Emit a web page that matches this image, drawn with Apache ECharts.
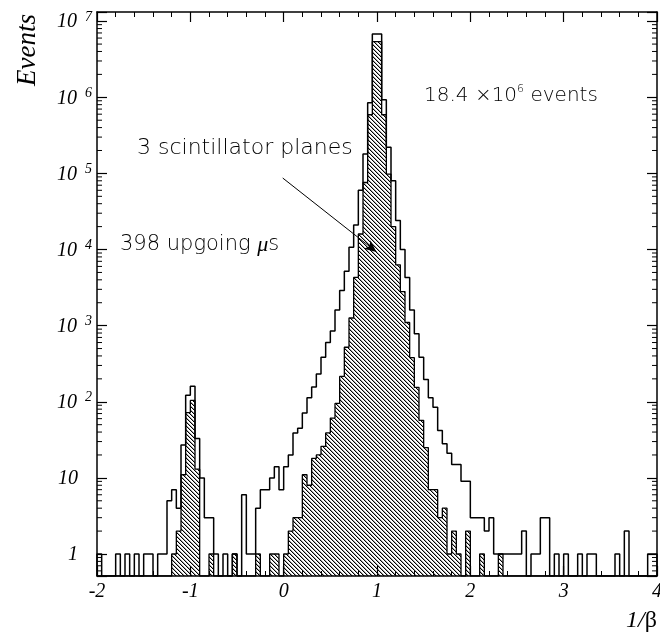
<!DOCTYPE html>
<html>
<head>
<meta charset="utf-8">
<script src="https://cdn.jsdelivr.net/npm/echarts@6/dist/echarts.min.js"></script>
<style>
html, body { margin: 0; padding: 0; background: #fff; }
#main { width: 660px; height: 635px; }
</style>
</head>
<body>
<div id="main"></div>
<script>
// 1/beta binning: 120 bins of 0.05 from -2 to 4
var xMin = -2, xMax = 4, binWidth = 0.05;
var yMin = 0.514, yMax = 1.32e7;

// all events (open histogram)
var allEvents = [
    1, 0, 0, 0, 1, 0, 1, 0, 1, 0,
    1, 1, 0, 1, 1, 5, 7, 4, 27, 122,
    160, 33, 10, 3, 3, 1, 0, 1, 0, 1,
    0, 6, 1, 1, 4, 7, 7, 10, 14, 7,
    14, 20, 39, 45, 71, 113, 156, 232, 385, 600,
    850, 1600, 2900, 5200, 10700, 21000, 60000, 180000, 850000, 6800000,
    6800000, 930000, 220000, 80000, 24000, 10000, 4300, 1600, 780, 385,
    196, 113, 85, 42, 28, 21, 15, 15, 9, 9,
    3, 3, 3, 2, 3, 1, 1, 1, 1, 1,
    1, 2, 0, 1, 1, 3, 3, 0, 1, 0,
    1, 0, 0, 1, 0, 1, 1, 0, 0, 0,
    0, 1, 0, 2, 0, 0, 0, 0, 1, 1
];

// events with 3 scintillator planes (hatched histogram)
var threePlanes = [
    0, 0, 0, 0, 0, 0, 0, 0, 0, 0,
    0, 0, 0, 0, 0, 0, 1, 2, 11, 72,
    104, 13, 0, 0, 1, 0, 0, 0, 0, 1,
    0, 0, 0, 0, 1, 0, 0, 1, 1, 0,
    1, 2, 3, 3, 11, 8, 18, 20, 26, 39,
    61, 95, 215, 520, 1260, 4300, 16000, 76000, 590000, 5400000,
    5400000, 590000, 98000, 20000, 6300, 2800, 1100, 380, 155, 57,
    25, 7, 7, 3, 4, 1, 2, 1, 0, 2,
    0, 0, 1, 0, 0, 0, 1, 0, 0, 0,
    0, 0, 0, 0, 0, 0, 0, 0, 0, 0,
    0, 0, 0, 0, 0, 0, 0, 0, 0, 0,
    0, 0, 0, 0, 0, 0, 0, 0, 0, 0
];

var serif = 'Liberation Serif';
var sans = 'DejaVu Sans';

// step outline points, empty bins drop to the bottom of the axis
function stepData(counts) {
    var pts = [[xMin, yMin]];
    for (var i = 0; i < counts.length; i++) {
        pts.push([xMin + i * binWidth, counts[i] > 0 ? counts[i] : yMin]);
    }
    pts.push([xMax, yMin]);
    return pts;
}

function hatchPattern() {
    var s = 4;
    var c = document.createElement('canvas');
    c.width = s;
    c.height = s;
    var ctx = c.getContext('2d');
    ctx.fillStyle = '#000';
    for (var i = 0; i < s; i++) {
        ctx.fillRect(i, i, 1, 1);
    }
    ctx.fillStyle = 'rgba(0,0,0,0.35)';
    for (var j = 0; j < s; j++) {
        ctx.fillRect((j + 1) % s, j, 1, 1);
    }
    return c;
}

// minor ticks of the log axis (2..9 in each decade)
var minorTicks = [];
for (var k = -1; k <= 7; k++) {
    for (var m = 2; m <= 9; m++) {
        var v = m * Math.pow(10, k);
        if (v > yMin && v < yMax) minorTicks.push([xMin, v]);
    }
}

function yLabel(value) {
    var p = Math.log(value) / Math.LN10;
    var e = Math.round(p);
    if (Math.abs(p - e) > 1e-6) return '';
    if (e === 0) return '{b|1}{p| }';
    if (e === 1) return '{b|10}{p| }';
    return '{b|10}{s|' + e + '}';
}

var axisLineStyle = { color: '#000', width: 1.5 };

var xAxisBase = {
    type: 'value',
    min: xMin,
    max: xMax,
    interval: 1,
    axisLine: { show: true, onZero: false, lineStyle: axisLineStyle },
    axisTick: { show: true, inside: true, length: 10, lineStyle: { color: '#000', width: 1.2 } },
    minorTick: { show: true, splitNumber: 5, length: 5, lineStyle: { color: '#000', width: 1 } },
    splitLine: { show: false },
    minorSplitLine: { show: false }
};

var yAxisBase = {
    type: 'log',
    logBase: 10,
    min: yMin,
    max: yMax,
    axisLine: { show: true, onZero: false, lineStyle: axisLineStyle },
    axisTick: { show: true, inside: true, length: 10, lineStyle: { color: '#000', width: 1.2 } },
    splitLine: { show: false }
};

var chart = echarts.init(document.getElementById('main'), null, { renderer: 'canvas' });

var option = {
    animation: false,
    backgroundColor: '#fff',
    grid: { left: 97, right: 3, top: 12, bottom: 59, containLabel: false, outerBoundsMode: 'none' },
    xAxis: [
        Object.assign({}, xAxisBase, {
            position: 'bottom',
            axisLabel: { show: true, color: '#000', fontFamily: serif, fontStyle: 'italic', fontSize: 20, margin: 6 }
        }),
        Object.assign({}, xAxisBase, {
            position: 'top',
            axisLabel: { show: false }
        })
    ],
    yAxis: [
        Object.assign({}, yAxisBase, {
            position: 'left',
            axisLabel: {
                show: true,
                margin: 5,
                formatter: yLabel,
                rich: {
                    b: { color: '#000', fontFamily: serif, fontStyle: 'italic', fontSize: 20, lineHeight: 22, verticalAlign: 'bottom' },
                    s: { color: '#000', fontFamily: serif, fontStyle: 'italic', fontSize: 14, lineHeight: 10, verticalAlign: 'top', padding: [0, 0, 0, 8] },
                    p: { fontSize: 14, width: 14 }
                }
            }
        }),
        Object.assign({}, yAxisBase, {
            position: 'right',
            axisLabel: { show: false }
        })
    ],
    series: [
        {
            name: '3 scintillator planes',
            type: 'line',
            step: 'end',
            data: stepData(threePlanes),
            showSymbol: false,
            symbol: 'none',
            lineStyle: { color: '#000', width: 1.3 },
            areaStyle: { origin: yMin, color: { image: hatchPattern(), repeat: 'repeat' }, opacity: 1 },
            z: 2
        },
        {
            name: 'all events',
            type: 'line',
            step: 'end',
            data: stepData(allEvents),
            showSymbol: false,
            symbol: 'none',
            lineStyle: { color: '#000', width: 1.5 },
            z: 3,
            markLine: {
                silent: true,
                symbol: ['none', 'arrow'],
                symbolSize: [8, 12],
                label: { show: false },
                lineStyle: { color: '#000', width: 1, type: 'solid' },
                data: [[{ coord: [-0.01, 87000] }, { coord: [0.995, 9300] }]]
            }
        },
        {
            name: 'minor ticks',
            type: 'custom',
            silent: true,
            data: minorTicks,
            renderItem: function (params, api) {
                var v = api.value(1);
                var l = api.coord([xMin, v]);
                var r = api.coord([xMax, v]);
                return {
                    type: 'group',
                    children: [
                        { type: 'line', shape: { x1: l[0], y1: l[1], x2: l[0] + 5, y2: l[1] }, style: { stroke: '#000', lineWidth: 1 } },
                        { type: 'line', shape: { x1: r[0], y1: r[1], x2: r[0] - 5, y2: r[1] }, style: { stroke: '#000', lineWidth: 1 } }
                    ]
                };
            },
            z: 4
        }
    ],
    graphic: [
        {
            type: 'text',
            x: 424,
            y: 95,
            style: {
                text: '{n|18.4 ×10}{s|6}{n| events}',
                verticalAlign: 'middle',
                rich: {
                    n: { fontFamily: sans, fontWeight: 200, fontSize: 20, fill: '#000', lineHeight: 22, verticalAlign: 'bottom' },
                    s: { fontFamily: sans, fontWeight: 200, fontSize: 11, fill: '#000', lineHeight: 10, verticalAlign: 'top' }
                }
            }
        },
        {
            type: 'text',
            x: 137,
            y: 148,
            style: { text: '3 scintillator planes', fontFamily: sans, fontWeight: 200, fontSize: 22, fill: '#000', verticalAlign: 'middle' }
        },
        {
            type: 'text',
            x: 120,
            y: 245,
            style: {
                text: '{n|398 upgoing }{m|μ}{n|s}',
                verticalAlign: 'middle',
                rich: {
                    n: { fontFamily: sans, fontWeight: 200, fontSize: 21, fill: '#000' },
                    m: { fontFamily: serif, fontSize: 22, fontStyle: 'italic', fill: '#000' }
                }
            }
        },
        {
            type: 'text',
            x: 28,
            y: 86,
            rotation: Math.PI / 2,
            style: { text: 'Events', fontFamily: serif, fontStyle: 'italic', fontSize: 27, fill: '#000', align: 'left', verticalAlign: 'middle' }
        },
        {
            type: 'text',
            x: 657,
            y: 621,
            style: {
                text: '{i|1/}{g|β}',
                align: 'right',
                verticalAlign: 'middle',
                rich: {
                    i: { fontFamily: serif, fontStyle: 'italic', fontSize: 24, fill: '#000' },
                    g: { fontFamily: serif, fontSize: 24, fill: '#000' }
                }
            }
        }
    ]
};

chart.setOption(option);
</script>
</body>
</html>
